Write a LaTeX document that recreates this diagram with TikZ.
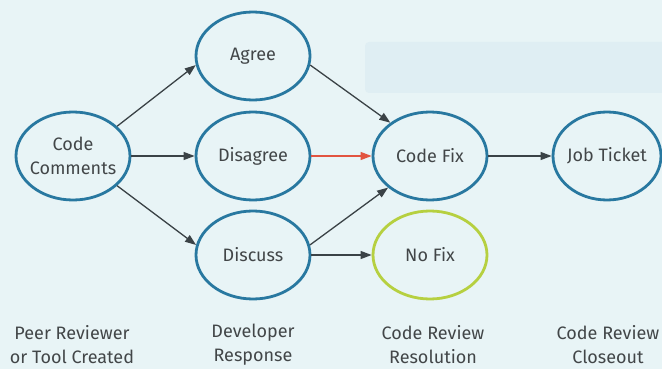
\documentclass[tikz,border=0pt]{standalone}
\usepackage{fontspec}
\setmainfont{Fira Sans}
\usetikzlibrary{shapes.geometric,arrows.meta}
\definecolor{paper}{RGB}{232,244,246}
\definecolor{paperband}{RGB}{223,238,243}
\definecolor{ringblue}{RGB}{40,120,160}
\definecolor{ringgreen}{RGB}{182,208,64}
\definecolor{ink}{RGB}{66,70,72}
\definecolor{wire}{RGB}{58,66,70}
\definecolor{hot}{RGB}{226,84,64}
\tikzset{
  bub/.style={ellipse, draw=ringblue, line width=2.8pt, inner sep=0pt,
              minimum width=114pt, minimum height=88pt},
  nofixbub/.style={bub, draw=ringgreen},
  txt/.style={text=ink, font=\fontsize{18}{24}\selectfont, align=center, inner sep=0pt},
  flow/.style={draw=wire, line width=1.3pt, -{Triangle[length=11pt,width=8pt]}},
  hotflow/.style={flow, draw=hot, -{Triangle[length=11pt,width=8pt,fill=hot]}},
}
\begin{document}
\begin{tikzpicture}[x=1pt,y=-1pt]
  % page background
  \fill[paper] (0,0) rectangle (662,369);
  \useasboundingbox (0,0) rectangle (662,369);
  \fill[paperband, rounded corners=4pt] (365,42) rectangle (670,93);

  % review stages
  \node[bub, label={[txt]center:Code\\Comments}] (cc)  at (73,156)  {};
  \node[bub, label={[txt]center:Agree}]          (ag)  at (253,56)  {};
  \node[bub, label={[txt]center:Disagree}]       (dis) at (253,156) {};
  \node[bub, label={[txt]center:Discuss}]        (dcs) at (253,255) {};
  \node[bub, label={[txt]center:Code Fix}]       (fix) at (430,156) {};
  \node[nofixbub, label={[txt]center:No Fix}]    (nof) at (430,255) {};
  \node[bub, minimum width=108pt, label={[txt]center:Job Ticket}] (job) at (607,156) {};

  % column captions
  \node[txt] (c1) at (72,345)  {Peer Reviewer\\or Tool Created};
  \node[txt] (c2) at (253,345) {Developer\\Response};
  \node[txt] (c3) at (433,345) {Code Review\\Resolution};
  \node[txt] (c4) at (608,345) {Code Review\\Closeout};

  % connectors
  \draw[flow] (cc.34) -- (ag.189);
  \draw[flow] (cc.east) -- (dis.west);
  \draw[flow] (cc.-34) -- (dcs.170);
  \draw[flow] (ag.-9) -- (fix.140);
  \draw[hotflow] (dis.east) -- (fix.west);
  \draw[flow] (dcs.10) -- (fix.217);
  \draw[flow] (dcs.east) -- (nof.west);
  \draw[flow] (fix.east) -- (job.west);
\end{tikzpicture}
\end{document}
